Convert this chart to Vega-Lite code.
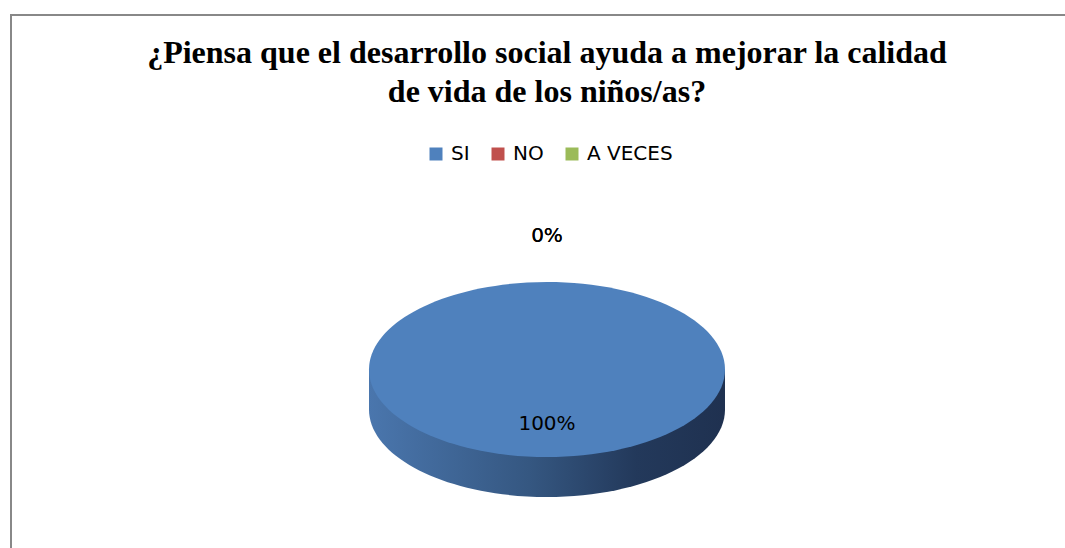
{
  "$schema": "https://vega.github.io/schema/vega-lite/v6.json",
  "width": 1072,
  "height": 709,
  "autosize": "none",
  "padding": {"left": 11, "top": 15, "right": -18, "bottom": -176},
  "background": "white",
  "config": {"view": {"stroke": null}},
  "title": {
    "text": ["¿Piensa que el desarrollo social ayuda a mejorar la calidad", "de vida de los niños/as?"],
    "font": "Liberation Serif",
    "fontSize": 32,
    "fontWeight": "bold",
    "color": "#000000",
    "anchor": "middle",
    "baseline": "alphabetic",
    "lineHeight": 39,
    "offset": -120
  },
  "data": {"values": [
    {"respuesta": "SI", "fraccion": 1},
    {"respuesta": "NO", "fraccion": 0},
    {"respuesta": "A VECES", "fraccion": 0}
  ]},
  "layer": [
    {
      "transform": [{"filter": "datum.fraccion > 0"}],
      "mark": {"type": "rect", "filled": false, "fill": null, "stroke": "#888888", "strokeWidth": 2},
      "encoding": {
        "x": {"value": 0}, "x2": {"value": "width"},
        "y": {"value": 0}, "y2": {"value": "height"}
      }
    },
    {
      "transform": [{"filter": "datum.fraccion > 0"}],
      "mark": {
        "type": "point", "filled": true, "opacity": 1, "strokeWidth": 0, "size": 126736,
        "shape": "M -1 0 L -1 0.2247 A 1 0.4916 0 0 0 1 0.2247 L 1 0 Z",
        "fill": {"gradient": "linear", "x1": 0, "y1": 0, "x2": 1, "y2": 0,
          "stops": [{"offset": 0, "color": "#4a76ad"}, {"offset": 0.45, "color": "#355781"}, {"offset": 0.75, "color": "#23395b"}, {"offset": 1, "color": "#1f3150"}]}
      },
      "encoding": {}
    },
    {
      "transform": [{"filter": "datum.fraccion > 0"}],
      "mark": {
        "type": "point", "filled": true, "opacity": 1, "strokeWidth": 0, "size": 126736,
        "shape": "M -1 0 A 1 0.4916 0 1 1 1 0 A 1 0.4916 0 1 1 -1 0 Z"
      },
      "encoding": {
        "color": {
          "field": "respuesta", "type": "nominal",
          "scale": {"domain": ["SI", "NO", "A VECES"], "range": ["#4F81BD", "#C0504D", "#9BBB59"]},
          "legend": {
            "orient": "none", "legendX": 415, "legendY": 129, "direction": "horizontal",
            "title": null, "symbolType": "square", "symbolSize": 169,
            "labelFont": "DejaVu Sans", "labelFontSize": 20, "labelColor": "#000000",
            "labelOffset": 5, "columnPadding": 18, "padding": 0,
            "symbolStrokeWidth": 0, "symbolOpacity": 1
          }
        }
      }
    },
    {
      "transform": [{"filter": "datum.fraccion > 0"}],
      "mark": {"type": "text", "radius": 54, "font": "DejaVu Sans", "fontSize": 20, "color": "#000000"},
      "encoding": {
        "theta": {"field": "fraccion", "type": "quantitative", "stack": true},
        "text": {"field": "fraccion", "type": "quantitative", "format": ".0%"}
      }
    },
    {
      "transform": [{"filter": "datum.fraccion == 0"}],
      "mark": {"type": "text", "radius": 134, "font": "DejaVu Sans", "fontSize": 20, "color": "#000000"},
      "encoding": {
        "theta": {"field": "fraccion", "type": "quantitative", "stack": true},
        "text": {"field": "fraccion", "type": "quantitative", "format": ".0%"}
      }
    }
  ]
}
